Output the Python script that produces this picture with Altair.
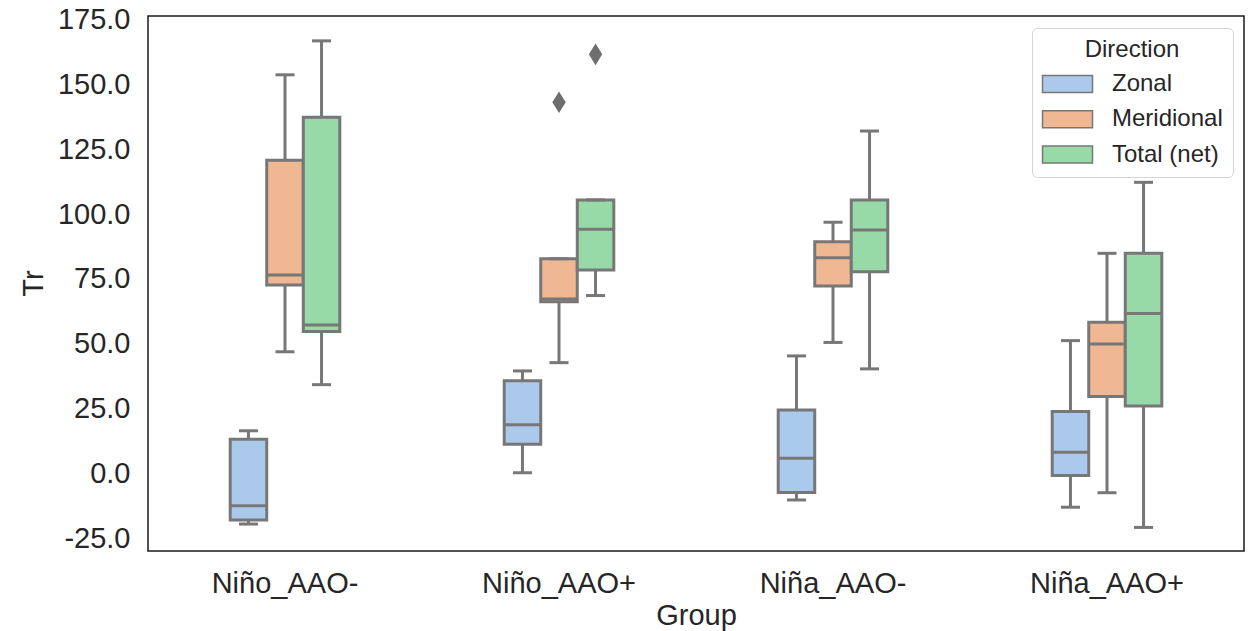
import altair as alt
import pandas as pd

groups = ["Niño_AAO-", "Niño_AAO+", "Niña_AAO-", "Niña_AAO+"]
directions = ["Zonal", "Meridional", "Total (net)"]
colors = ["#abc9ea", "#efb792", "#98d9a8"]

# per group, in order Zonal, Meridional, Total (net)
whisker_low = [[-19.6, 46.9, 34.2], [0.2, 42.7, 68.6], [-10.3, 50.5, 40.3], [-13.1, -7.5, -20.9]]
q1 = [[-18.0, 72.7, 54.7], [11.2, 66.2, 78.5], [-7.4, 72.3, 77.8], [-0.9, 29.6, 26.0]]
median = [[-12.5, 76.5, 57.2], [18.7, 67.3, 94.2], [5.8, 83.2, 93.9], [8.1, 49.9, 61.7]]
q3 = [[13.1, 120.8, 137.4], [35.7, 82.8, 105.5], [24.4, 89.4, 105.5], [23.8, 58.3, 84.9]]
whisker_high = [[16.4, 153.8, 166.9], [39.5, 82.8, 105.5], [45.3, 96.9, 132.1], [51.2, 84.9, 112.3]]

outlier_group = ["Niño_AAO+", "Niño_AAO+"]
outlier_dir = ["Meridional", "Total (net)"]
outlier_val = [143.2, 161.7]

y_ticks = [-25, 0, 25, 50, 75, 100, 125, 150, 175]

rows = []
for gi, g in enumerate(groups):
    for di, d in enumerate(directions):
        rows.append(dict(Group=g, Direction=d, low=whisker_low[gi][di], q1=q1[gi][di],
                         median=median[gi][di], q3=q3[gi][di], high=whisker_high[gi][di]))
df = pd.DataFrame(rows)
out = pd.DataFrame(dict(Group=outlier_group, Direction=outlier_dir, Tr=outlier_val))

GRAY = "#777777"
LW = 3

x = alt.X("Group:N", sort=groups, title="Group",
          scale=alt.Scale(paddingInner=0.6, paddingOuter=0.3))
xo = alt.XOffset("Direction:N", sort=directions,
                 scale=alt.Scale(domain=directions, paddingInner=0, paddingOuter=0))
yscale = alt.Scale(domain=[-30, 176.5], nice=False, zero=False)
yaxis = alt.Axis(values=y_ticks, title="Tr", labelPadding=18,
                 labelExpr="replace(format(datum.value, '.1f'), '\u2212', '-')",
                 titleX=-115, titleY=267, titleAngle=270, titleAlign="center",
                 titleBaseline="middle")

base = alt.Chart(df)

whisk = base.mark_rule(color=GRAY, strokeWidth=LW).encode(
    x=x, xOffset=xo,
    y=alt.Y("low:Q", scale=yscale, axis=yaxis),
    y2="high:Q")

box = base.mark_bar(stroke=GRAY, strokeWidth=LW, opacity=1).encode(
    x=x, xOffset=xo,
    y=alt.Y("q1:Q", scale=yscale),
    y2="q3:Q",
    color=alt.Color("Direction:N", sort=directions,
                    scale=alt.Scale(domain=directions, range=colors),
                    legend=alt.Legend(title="Direction")))

med = base.mark_tick(color=GRAY, thickness=LW, size=36, opacity=1).encode(
    x=x, xOffset=xo, y=alt.Y("median:Q", scale=yscale))

cap_lo = base.mark_tick(color=GRAY, thickness=LW, size=19, opacity=1).encode(
    x=x, xOffset=xo, y=alt.Y("low:Q", scale=yscale))
cap_hi = base.mark_tick(color=GRAY, thickness=LW, size=19, opacity=1).encode(
    x=x, xOffset=xo, y=alt.Y("high:Q", scale=yscale))

pts = alt.Chart(out).mark_point(
    shape="M0,-1L0.62,0L0,1L-0.62,0Z", size=467, filled=True,
    color="#6e6e6e", opacity=1, strokeWidth=0).encode(
    x=x, xOffset=xo, y=alt.Y("Tr:Q", scale=yscale))

chart = alt.layer(whisk, box, med, cap_lo, cap_hi, pts).properties(
    width=1096, height=535,
    autosize=alt.AutoSizeParams(type="none"),
    padding={"left": 140, "top": 8, "right": 1, "bottom": 80},
).configure_view(
    stroke="#1a1a1a", strokeWidth=1.5
).configure_axis(
    domain=False, ticks=False, grid=False,
    labelFont="Liberation Sans", titleFont="Liberation Sans",
    labelFontSize=29, titleFontSize=29, labelColor="#262626", titleColor="#262626",
    titleFontWeight="normal"
).configure_axisX(
    labelAngle=0, labelPadding=18, titlePadding=3
).configure_legend(
    orient="none", legendX=884, legendY=12,
    titleFont="Liberation Sans", labelFont="Liberation Sans",
    titleFontSize=24, labelFontSize=24, titleFontWeight="normal",
    titleColor="#262626", labelColor="#262626", titleAnchor="middle",
    padding=10, strokeColor="#d5d5d5", fillColor="white", cornerRadius=5,
    symbolType="M-1.35,-1H4.53V1H-1.35Z", symbolSize=289,
    symbolStrokeColor=GRAY, symbolStrokeWidth=1.5, symbolOpacity=1,
    labelOffset=46, rowPadding=11.3, titlePadding=10
)

chart.save("out.html", embed_options={"renderer": "svg", "actions": False})
